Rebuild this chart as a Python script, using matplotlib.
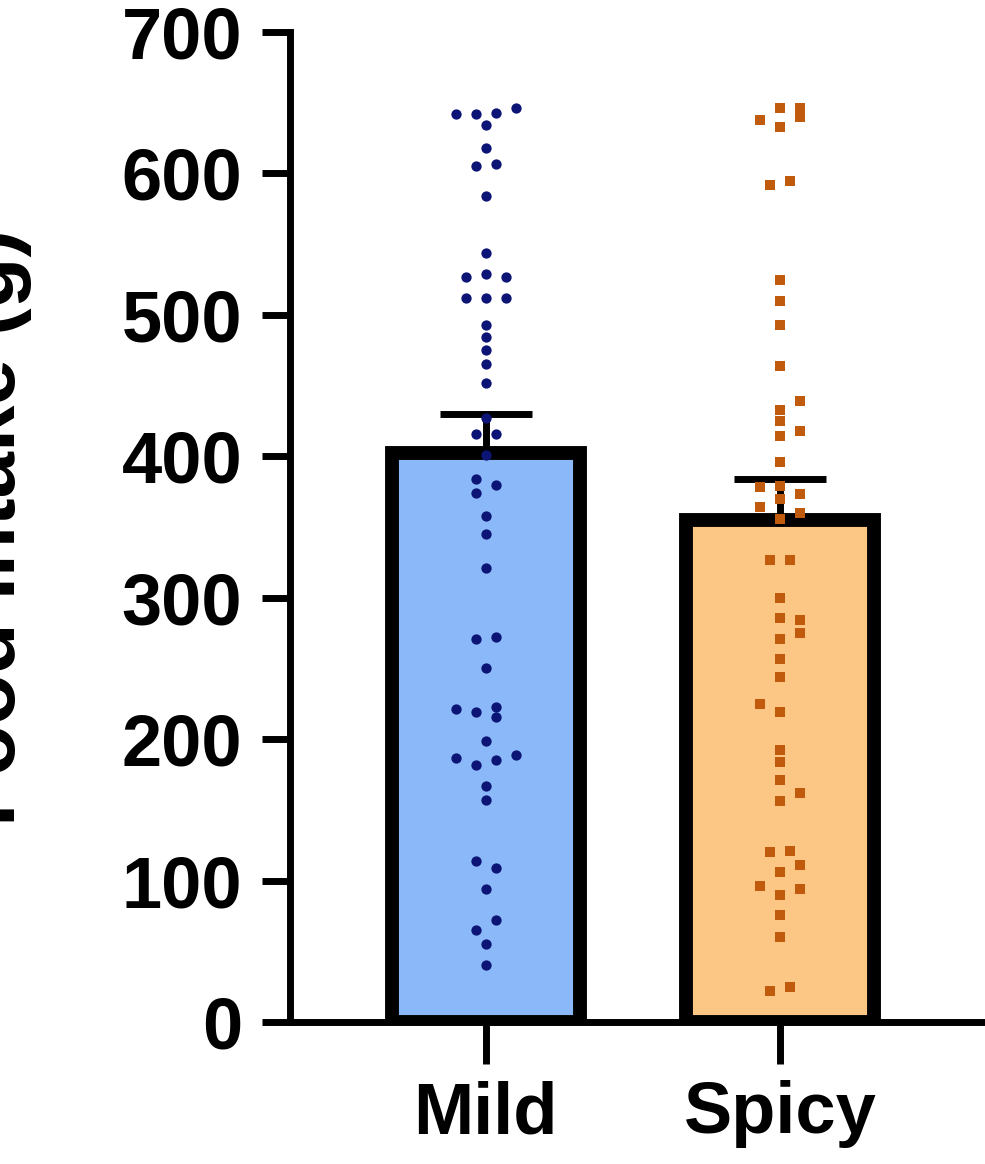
import matplotlib
matplotlib.use("Agg")
import matplotlib.pyplot as plt
import numpy as np

categories = ["Mild", "Spicy"]
bar_means = [402, 355]
bar_err_top = [430, 384]

mild_values = [642, 642, 643, 646, 634, 618, 605, 607, 584, 544, 529, 527, 527, 512, 512, 512,
               493, 484, 475, 465, 452, 427, 416, 416, 401, 384, 380, 374, 358, 345, 321, 271, 272,
               250, 221, 219, 223, 216, 199, 187, 182, 185, 189, 167, 157, 114, 109, 94, 72, 65, 55, 40]
mild_offsets = [-3, -1, 1, 3, 0, 0, -1, 1, 0, 0, 0, -2, 2, -2, 0, 2,
                0, 0, 0, 0, 0, 0, -1, 1, 0, -1, 1, -1, 0, 0, 0, -1, 1,
                0, -3, -1, 1, 1, 0, -3, -1, 1, 3, 0, 0, -1, 1, 0, 1, -1, 0, 0]

spicy_values = [638, 646, 633, 646, 640, 592, 595, 525, 510, 493, 464, 433, 439, 425, 414, 418,
                396, 378, 379, 370, 373, 364, 360, 356, 327, 327, 300, 286, 271, 284, 275, 257,
                244, 225, 219, 192, 184, 171, 162, 156, 120, 121, 111, 106, 96, 94, 90, 76, 60, 22, 25]
spicy_offsets = [-2, 0, 0, 2, 2, -1, 1, 0, 0, 0, 0, 0, 2, 0, 0, 2,
                 0, -2, 0, 0, 2, -2, 2, 0, -1, 1, 0, 0, 0, 2, 2, 0,
                 0, -2, 0, 0, 0, 0, 2, 0, -1, 1, 2, 0, -2, 2, 0, 0, 0, -1, 1]

fig = plt.figure(figsize=(9.85, 11.64), dpi=100)
ax = fig.add_axes([0.294, 0.122, 0.706, 0.8505])
font = "Liberation Sans"
x = np.arange(len(categories))
ax.bar(x, bar_means, width=0.64, color=["#8ab8f8", "#fcc685"], edgecolor="black",
       linewidth=10, zorder=2)
for xi, m, t in zip(x, bar_means, bar_err_top):
    ax.errorbar(xi, m, yerr=[[0], [t - m]], color="black", elinewidth=5,
                capsize=33, capthick=5, zorder=3)
step = 0.034
ax.scatter(x[0] + np.array(mild_offsets) * step, mild_values, s=55, marker="o",
           color="#0c1475", zorder=4, linewidths=0)
ax.scatter(x[1] + np.array(spicy_offsets) * step, spicy_values, s=60, marker="s",
           color="#c05a0c", zorder=4, linewidths=0)

ax.set_xlim(-0.667, 1.697)
ax.set_ylim(0, 700)
ax.set_yticks(range(0, 701, 100))
ax.set_xticks(x)
ax.set_xticklabels(categories, fontsize=52, fontweight="bold", fontfamily=font)
for lab in ax.get_yticklabels():
    lab.set_fontsize(52); lab.set_fontweight("bold"); lab.set_fontfamily(font)
ax.set_ylabel("Food Intake (g)", fontsize=60, fontweight="bold", fontfamily=font, labelpad=10)
ax.yaxis.set_label_coords(-0.37, 0.5)
ax.spines["top"].set_visible(False)
ax.spines["right"].set_visible(False)
for s in ["left", "bottom"]:
    ax.spines[s].set_linewidth(5)
ax.tick_params(axis="y", length=20, width=5, pad=14)
ax.tick_params(axis="x", length=30, width=5, pad=12)
fig.savefig("out.png", dpi=100)
